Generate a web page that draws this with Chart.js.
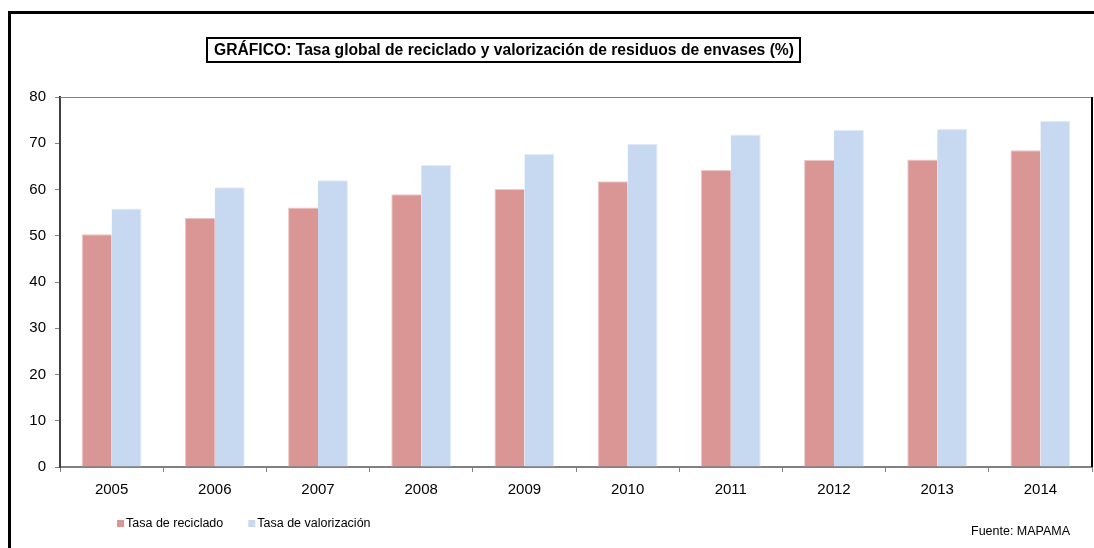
<!DOCTYPE html>
<html>
<head>
<meta charset="utf-8">
<script src="https://cdn.jsdelivr.net/npm/chart.js@4"></script>
<style>
  body { margin: 0; background: #fff; }
  #wrap { width: 1094px; height: 548px; }
</style>
</head>
<body>
<div id="wrap"><canvas id="grafico" width="1094" height="548"></canvas></div>
<script>
var years = ['2005', '2006', '2007', '2008', '2009', '2010', '2011', '2012', '2013', '2014'];
var reciclado = [50.3, 53.9, 56.1, 59.0, 60.1, 61.8, 64.2, 66.4, 66.5, 68.5];
var valorizacion = [55.9, 60.5, 62.0, 65.3, 67.7, 69.9, 71.9, 72.9, 73.1, 74.8];
var yTicks = [0, 10, 20, 30, 40, 50, 60, 70, 80];
var titulo = 'GRÁFICO: Tasa global de reciclado y valorización de residuos de envases (%)';
var fuente = 'Fuente: MAPAMA';

var FONT = '"Liberation Sans", Arial, sans-serif';

// frame, title box, plot border, legend and source
var decoracion = {
    id: 'decoracion',
    afterDraw: function(chart) {
        var ctx = chart.ctx;
        var area = chart.chartArea;
        ctx.save();

        // outer frame (left + top)
        ctx.strokeStyle = '#000';
        ctx.lineWidth = 3;
        ctx.beginPath();
        ctx.moveTo(9.5, 548);
        ctx.lineTo(9.5, 12.5);
        ctx.lineTo(1094, 12.5);
        ctx.stroke();

        // title in box (text squeezed to the box width like the original)
        ctx.font = 'bold 16px ' + FONT;
        ctx.fillStyle = '#000';
        ctx.textBaseline = 'middle';
        ctx.textAlign = 'left';
        var w = ctx.measureText(titulo).width;
        var target = 580;
        ctx.save();
        ctx.translate(214, 50.5);
        ctx.scale(target / w, 1);
        ctx.fillText(titulo, 0, 0);
        ctx.restore();
        ctx.lineWidth = 2;
        ctx.strokeRect(207, 38, 593, 24);

        // plot area border top (gray) and right (dark)
        ctx.lineWidth = 1;
        ctx.strokeStyle = '#808080';
        ctx.beginPath();
        ctx.moveTo(area.left, area.top + 0.5);
        ctx.lineTo(area.right, area.top + 0.5);
        ctx.stroke();
        ctx.strokeStyle = '#000';
        ctx.lineWidth = 2;
        ctx.beginPath();
        ctx.moveTo(area.right, area.top);
        ctx.lineTo(area.right, area.bottom);
        ctx.stroke();

        // legend
        ctx.font = '12.5px ' + FONT;
        var lx = 117;
        chart.data.datasets.forEach(function(ds) {
            ctx.fillStyle = ds.backgroundColor;
            ctx.fillRect(lx, 520, 7, 7);
            ctx.fillStyle = '#000';
            ctx.fillText(ds.label, lx + 9, 524);
            lx += 9 + ctx.measureText(ds.label).width + 25;
        });

        // source
        ctx.fillText(fuente, 971, 532);
        ctx.restore();
    }
};

var ctx = document.getElementById('grafico');
var myChart = new Chart(ctx, {
    type: 'bar',
    data: {
        labels: years,
        datasets: [
            {
                label: 'Tasa de reciclado',
                data: reciclado,
                backgroundColor: '#D99694',
                borderColor: '#ECC9C8',
                borderWidth: { top: 1, left: 1, right: 0, bottom: 0 }
            },
            {
                label: 'Tasa de valorización',
                data: valorizacion,
                backgroundColor: '#C6D9F1',
                borderColor: '#E2ECF8',
                borderWidth: { top: 1, left: 0, right: 1, bottom: 0 }
            }
        ]
    },
    options: {
        responsive: false,
        animation: false,
        layout: { padding: { left: 0, right: 2, top: 97, bottom: 41 } },
        datasets: {
            bar: { categoryPercentage: 0.58, barPercentage: 1.0 }
        },
        plugins: {
            legend: { display: false },
            tooltip: { enabled: false },
            title: { display: false }
        },
        scales: {
            x: {
                afterFit: function(s) { s.height = 40; },
                grid: {
                    offset: true,
                    drawOnChartArea: false,
                    tickLength: 5,
                    color: '#808080'
                },
                border: { color: '#808080', width: 2 },
                ticks: {
                    color: '#000',
                    font: { family: FONT, size: 15 },
                    padding: 9
                }
            },
            y: {
                min: 0,
                max: 80,
                afterFit: function(s) { s.width = 60; },
                afterBuildTicks: function(s) {
                    s.ticks = yTicks.map(function(v) { return { value: v }; });
                },
                grid: {
                    drawOnChartArea: false,
                    tickLength: 5,
                    color: '#808080'
                },
                border: { color: '#404040', width: 2 },
                ticks: {
                    color: '#000',
                    font: { family: FONT, size: 15 },
                    padding: 9
                }
            }
        }
    },
    plugins: [decoracion]
});
</script>
</body>
</html>
